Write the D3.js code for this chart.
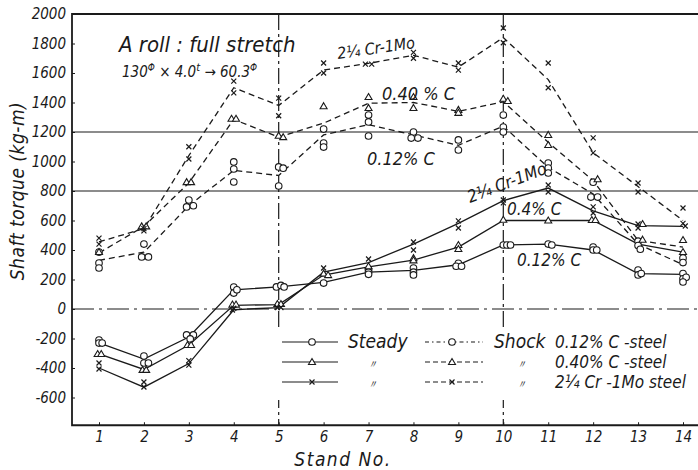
<!DOCTYPE html>
<html>
<head>
<meta charset="utf-8">
<script src="https://cdn.jsdelivr.net/npm/d3@7"></script>
<style>
  body { margin: 0; background: #fff; }
  svg text { font-family: "Liberation Sans Narrow", "DejaVu Sans Condensed", sans-serif; font-style: italic; fill: #1a1a1a; }
</style>
</head>
<body>
<svg id="chart" width="698" height="470"></svg>
<script>
const svg = d3.select('#chart')
const ink = '#1a1a1a'

// stands and tick labels
const stands = [1, 2, 3, 4, 5, 6, 7, 8, 9, 10, 11, 12, 13, 14]
const yTicks = [-600, -400, -200, 0, 200, 400, 600, 800, 1000, 1200, 1400, 1600, 1800, 2000]

// shock torque (dashed lines)
const shockC12 = [330, 385, 700, 940, 905, 1180, 1250, 1180, 1110, 1240, 960, 780, 440, 300]
const shockC40 = [380, 560, 855, 1285, 1165, 1260, 1395, 1400, 1340, 1405, 1130, 870, 465, 420]
const shockCrMo = [455, 545, 1040, 1500, 1380, 1620, 1665, 1720, 1640, 1840, 1555, 1060, 830, 600]

// steady torque (solid lines)
const steadyC12 = [-230, -340, -190, 130, 150, 180, 250, 262, 300, 434, 440, 400, 240, 235]
const steadyC40 = [-305, -410, -244, 25, 30, 230, 285, 332, 420, 600, 600, 600, 440, 386]
const steadyCrMo = [-400, -530, -370, -5, 10, 250, 315, 440, 580, 735, 820, 665, 565, 560]

// measured points [stand, torque]
const ptsShockC12 = [[1,386],[1,312],[1,278],[2,440],[1.95,353],[2.1,353],[3,739],[2.95,692],[3.1,700],[4,997],[4,949],[4,861],[5,963],[5.1,955],[5,834],
  [6,1220],[6,1125],[6,1098],[7,1315],[7,1268],[7,1173],[8,1200],[7.95,1159],[8.1,1159],[9,1146],[9,1078],[10,1315],[10,1234],[10,1200],
  [11,990],[11,956],[11,922],[12,860],[11.95,759],[12.1,759],[13,460],[13,430],[13.05,405],[14,345],[14,315]]
const ptsShockC40 = [[1,386],[1.95,560],[2.05,560],[2.95,860],[3.05,860],[3.95,1290],[4.05,1290],[5,1175],[5.1,1165],[6,1375],
  [7,1437],[7,1363],[8,1437],[8,1363],[9,1350],[9,1330],[10,1425],[10.1,1410],[11,1180],[11,1112],[12.1,880],[13.1,470],[14,468]]
const ptsShockCrMo = [[1,480],[1,440],[2,545],[2,530],[3,1100],[3,1017],[4,1545],[4,1465],[5,1430],[5,1310],[6,1668],[6,1600],
  [6.93,1660],[7.07,1660],[8,1740],[8,1700],[9,1668],[9,1620],[10,1905],[10,1805],[11,1668],[11,1500],[12,1160],[12,1058],
  [13,854],[13,793],[14,685]]
const ptsSteadyC12 = [[1,-210],[1,-231],[1.07,-231],[2,-319],[2,-366],[2.1,-366],[2.95,-176],[3.1,-176],[3.03,-203],[4,149],[4,108],[4.07,130],
  [4.95,150],[5.05,160],[5.12,150],[6,176],[7,265],[7,250],[7,235],[8,278],[8,250],[8,231],[9,310],[8.95,290],[9.07,290],
  [10,434],[10.08,434],[10.16,434],[11,440],[11.08,434],[12,420],[12,400],[12.08,400],[13,264],[13,231],[13.07,240],[14,240],[14,205],[14.07,215],[14,183]]
const ptsSteadyC40 = [[0.97,-305],[1.05,-305],[1.97,-413],[2.05,-413],[2.97,-244],[3.05,-244],[3.97,30],[4.05,30],[4.97,34],[5.05,34],
  [6,240],[6.1,230],[7,290],[8,345],[8,330],[9,434],[9,407],[10,605],[11,600],[11.97,603],[12.05,603],[13.1,576],[14,386]]
const ptsSteadyCrMo = [[1,-366],[1,-407],[2,-495],[2,-529],[3,-350],[3,-380],[4,5],[3.97,-7],[4.97,10],[5.05,10],[6,278],[7,339],
  [8,454],[8,400],[9,597],[9,549],[10,739],[10,720],[11,841],[11,793],[12,692],[12,651],[13,576],[13,549],[14,580],[14.05,563]]

const xScale = d3.scaleLinear().domain([1, 14]).range([99, 683])
const yScale = d3.scaleLinear().domain([0, 2000]).range([309, 14])

const plotL = 72, plotR = 698, plotT = yScale(2000), plotB = yScale(-788)

// grid / reference lines
const g = svg.append('g').attr('stroke', ink).attr('fill', 'none')
g.append('line').attr('x1', plotL).attr('x2', plotR).attr('y1', yScale(1200)).attr('y2', yScale(1200)).attr('stroke-width', 1.2)
g.append('line').attr('x1', plotL).attr('x2', plotR).attr('y1', yScale(800)).attr('y2', yScale(800)).attr('stroke-width', 1.2)
g.append('line').attr('x1', plotL).attr('x2', plotR).attr('y1', yScale(0)).attr('y2', yScale(0))
  .attr('stroke-width', 1.2).attr('stroke-dasharray', '22,5,3,5')
;[5, 10].forEach(s => {
  g.append('line').attr('x1', xScale(s)).attr('x2', xScale(s)).attr('y1', plotT).attr('y2', plotB)
    .attr('stroke-width', 1.2).attr('stroke-dasharray', '16,4,3,4')
})

// frame
g.append('path').attr('d', `M${plotR},${plotT}H${plotL}V${plotB}H${plotR}`).attr('stroke-width', 1.8)

// axes
const yAxis = d3.axisLeft(yScale).tickValues(yTicks).tickSize(-3).tickPadding(6).tickFormat(d => String(d))
svg.append('g').attr('transform', `translate(${plotL},0)`).call(yAxis)
const xAxis = d3.axisBottom(xScale).tickValues(stands).tickSize(-3).tickPadding(6)
svg.append('g').attr('transform', `translate(0,${plotB})`).call(xAxis)
svg.selectAll('path.domain').remove()
svg.selectAll('.tick line').attr('stroke', ink)
svg.selectAll('.tick text').style('font-size', '15px').style('font-family', '"Liberation Sans Narrow", "DejaVu Sans Condensed", sans-serif')
  .style('font-style', 'italic').attr('fill', ink)

// series
const line = d3.line().x((d, i) => xScale(stands[i])).y(d => yScale(d))
const series = [
  { v: shockC12, dash: '6,4' }, { v: shockC40, dash: '6,4' }, { v: shockCrMo, dash: '6,4' },
  { v: steadyC12, dash: null }, { v: steadyC40, dash: null }, { v: steadyCrMo, dash: null }
]
series.forEach(s => {
  svg.append('path').datum(s.v).attr('d', line).attr('fill', 'none').attr('stroke', ink)
    .attr('stroke-width', 1.3).attr('stroke-dasharray', s.dash)
})

// markers
const circ = (sel, x, y) => sel.append('circle').attr('cx', x).attr('cy', y).attr('r', 3.3)
  .attr('fill', '#fff').attr('stroke', ink).attr('stroke-width', 1.1)
const tri = (sel, x, y) => sel.append('path').attr('d', `M${x},${y - 3.5}L${x + 3.5},${y + 2.5}L${x - 3.5},${y + 2.5}Z`)
  .attr('fill', '#fff').attr('stroke', ink).attr('stroke-width', 1.1)
const cross = (sel, x, y) => sel.append('path').attr('d', `M${x - 2.5},${y - 2.5}L${x + 2.5},${y + 2.5}M${x + 2.5},${y - 2.5}L${x - 2.5},${y + 2.5}`)
  .attr('fill', 'none').attr('stroke', ink).attr('stroke-width', 1.2)
const mk = svg.append('g')
;[[ptsShockC12, circ], [ptsSteadyC12, circ], [ptsShockC40, tri], [ptsSteadyC40, tri], [ptsShockCrMo, cross], [ptsSteadyCrMo, cross]]
  .forEach(([pts, f]) => pts.forEach(p => f(mk, xScale(p[0]), yScale(p[1]))))

// legend
const lg = svg.append('g')
lg.append('rect').attr('x', 278).attr('y', 328).attr('width', 412).attr('height', 72).attr('fill', '#fff')
const rows = [
  { y: 342, mark: circ, dash: '4,3,1.5,3', name: '0.12% C -steel', steady: 'Steady', shock: 'Shock' },
  { y: 362, mark: tri, dash: '5,3', name: '0.40% C -steel', steady: '〃', shock: '〃' },
  { y: 382, mark: cross, dash: '5,3', name: '2¼ Cr -1Mo steel', steady: '〃', shock: '〃' }
]
rows.forEach(r => {
  lg.append('line').attr('x1', 282).attr('x2', 338).attr('y1', r.y).attr('y2', r.y).attr('stroke', ink).attr('stroke-width', 1.2)
  r.mark(lg, 312, r.y)
  lg.append('line').attr('x1', 425).attr('x2', 483).attr('y1', r.y).attr('y2', r.y).attr('stroke', ink)
    .attr('stroke-width', 1.2).attr('stroke-dasharray', r.dash)
  r.mark(lg, 452, r.y)
  const big = r.steady === 'Steady'
  lg.append('text').attr('x', big ? 348 : 372).attr('y', r.y + 6).attr('text-anchor', big ? 'start' : 'middle')
    .style('font-size', big ? '19px' : '11px').text(r.steady)
  lg.append('text').attr('x', big ? 494 : 521).attr('y', r.y + 6).attr('text-anchor', big ? 'start' : 'middle')
    .style('font-size', big ? '19px' : '11px').text(r.shock)
  lg.append('text').attr('x', 555).attr('y', r.y + 6).style('font-size', '17px').text(r.name)
})

// annotations
const note = (x, y, size, txt, rot) => svg.append('text').attr('x', x).attr('y', y)
  .attr('transform', rot ? `rotate(${rot},${x},${y})` : null).style('font-size', size + 'px').text(txt)
note(119, 52, 22, 'A roll : full stretch')
const sub = svg.append('text').attr('x', 122).attr('y', 77).style('font-size', '15px')
sub.append('tspan').text('130')
sub.append('tspan').attr('dy', -6).style('font-size', '10px').text('Φ')
sub.append('tspan').attr('dy', 6).text(' × 4.0')
sub.append('tspan').attr('dy', -6).style('font-size', '11px').text('t')
sub.append('tspan').attr('dy', 6).text(' → 60.3')
sub.append('tspan').attr('dy', -6).style('font-size', '10px').text('Φ')
note(338, 59, 16, '2¼ Cr-1Mo', -8)
note(382, 100, 18, '0.40 % C')
note(367, 165, 18, '0.12% C')
note(470, 203, 17, '2¼ Cr-1Mo', -21)
note(507, 215, 17, '0.4% C')
note(517, 266, 17, '0.12% C')

// axis titles
svg.append('text').attr('transform', 'translate(24,191) rotate(-90)').attr('text-anchor', 'middle')
  .style('font-size', '19px').style('letter-spacing', '0.5px').text('Shaft  torque  (kg-m)')
svg.append('text').attr('x', 343).attr('y', 466).attr('text-anchor', 'middle')
  .style('font-size', '19px').style('letter-spacing', '1.5px').text('Stand  No.')
</script>
</body>
</html>
